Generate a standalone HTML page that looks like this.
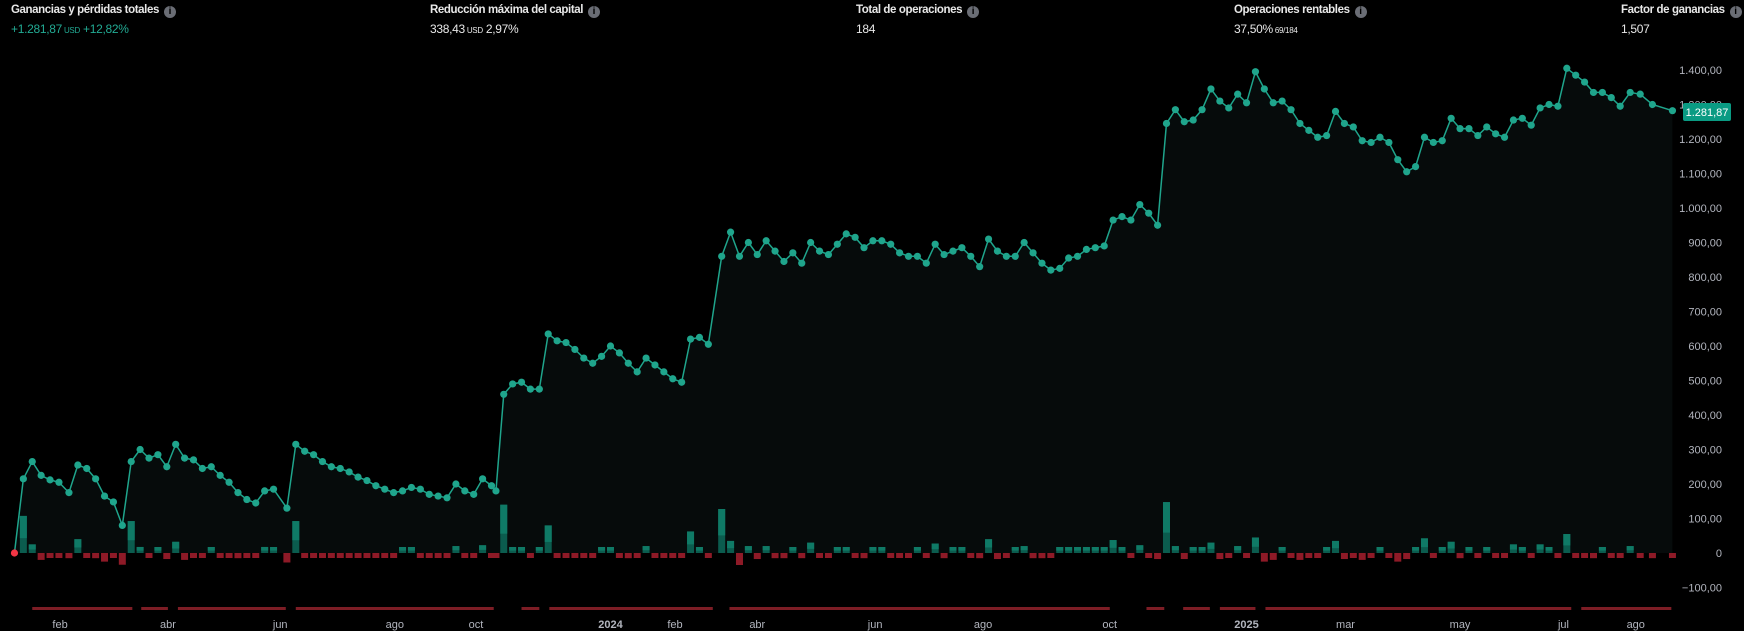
<!DOCTYPE html>
<html><head><meta charset="utf-8"><style>
body{margin:0;background:#000;width:1744px;height:631px;overflow:hidden;font-family:"Liberation Sans",sans-serif;}
.h{position:absolute;color:#e8e8e8;white-space:nowrap;}
.t{top:4px;font-weight:bold;font-size:11.5px;letter-spacing:-0.4px}
.v{top:22px;font-size:12px;letter-spacing:-0.3px}
.i{display:inline-block;width:12px;height:12px;border-radius:50%;background:#6a6d75;color:#000;font-size:10px;text-align:center;line-height:12px;font-weight:bold;vertical-align:-1px;margin-left:5px;letter-spacing:0}
small{font-size:8px}
</style></head><body>
<div class="h t" style="left:11px">Ganancias y pérdidas totales<span class="i">i</span></div>
<div class="h v" style="left:11px;color:#22ab94">+1.281,87<small> USD</small> +12,82%</div>
<div class="h t" style="left:430px">Reducción máxima del capital<span class="i">i</span></div>
<div class="h v" style="left:430px">338,43<small> USD</small> 2,97%</div>
<div class="h t" style="left:856px">Total de operaciones<span class="i">i</span></div>
<div class="h v" style="left:856px">184</div>
<div class="h t" style="left:1234px">Operaciones rentables<span class="i">i</span></div>
<div class="h v" style="left:1234px">37,50%<small> 69/184</small></div>
<div class="h t" style="left:1621px">Factor de ganancias<span class="i">i</span></div>
<div class="h v" style="left:1621px">1,507</div>
<svg id="s" width="1744" height="631" style="position:absolute;left:0;top:0" font-family="Liberation Sans, sans-serif"></svg>
<script>
var d=[13,0,21,215,29,265,37,225,45,212,53,205,62,175,70,255,78,245,86,215,94,165,102,148,110,80,118,265,126,300,134,275,142,285,150,250,158,315,166,275,174,270,182,245,190,250,198,225,206,205,214,175,222,155,230,145,238,180,246,185,258,130,266,315,274,295,282,285,290,265,298,250,306,245,314,235,322,220,330,210,338,195,346,185,354,175,362,180,370,190,378,185,386,170,394,165,402,160,410,200,418,180,426,170,434,215,442,195,446,180,453,460,461,490,469,495,477,475,485,475,493,635,501,615,509,610,517,590,525,565,533,550,541,570,549,600,557,580,565,550,573,525,581,565,589,545,597,525,605,505,613,495,621,620,629,625,637,605,649,860,657,930,665,860,673,900,681,865,689,905,697,875,705,845,713,870,721,840,729,900,737,875,745,865,753,895,761,925,769,915,777,885,785,905,793,905,801,895,809,870,817,860,825,860,833,840,841,895,849,865,857,875,865,885,873,860,881,830,889,910,897,875,905,860,913,860,921,900,929,870,937,840,945,820,953,825,961,855,969,860,977,880,985,885,993,890,1001,965,1009,975,1017,965,1025,1010,1033,985,1041,950,1049,1245,1057,1285,1065,1250,1073,1255,1081,1285,1089,1345,1097,1310,1105,1290,1113,1330,1121,1305,1129,1395,1137,1345,1145,1305,1153,1310,1161,1285,1169,1245,1177,1225,1185,1205,1193,1210,1201,1280,1209,1245,1217,1235,1225,1195,1233,1190,1241,1205,1249,1190,1257,1140,1265,1105,1273,1120,1281,1205,1289,1190,1297,1195,1305,1260,1313,1230,1321,1230,1329,1210,1337,1235,1345,1215,1353,1205,1361,1255,1369,1260,1377,1240,1385,1290,1393,1300,1401,1295,1409,1405,1417,1385,1425,1365,1433,1335,1441,1335,1449,1320,1457,1295,1466,1335,1475,1330,1486,1300,1504,1282];
var S=1.112,Y=function(v){return 553-v*0.345};
var s=document.getElementById('s'),h='';
for(var v=-100;v<=1400;v+=100){var t=(v<0?'−':'')+Math.abs(v).toLocaleString('de-DE')+(v==0?'':',00');if(v==0)t='0';h+='<text x="1722" y="'+(Y(v)+4)+'" fill="#b2b5be" font-size="11" text-anchor="end">'+t+'</text>';}
var pts=[];for(var i=0;i<d.length;i+=2)pts.push([d[i]*S,Y(d[i+1]),d[i+1]]);
var p='M'+pts[0][0]+','+553;pts.forEach(function(q){p+=' L'+q[0]+','+q[1]});p+=' L'+pts[pts.length-1][0]+',553Z';
h+='<path d="'+p+'" fill="#060b0b"/>';
for(var i=1;i<pts.length;i++){var df=pts[i][2]-pts[i-1][2],x=pts[i][0]-3.5;var bh=Math.min(Math.abs(df)*0.5,160)*0.345;if(bh<4)bh=4;
if(df>=0){bh=Math.max(bh,6);h+='<rect x="'+x+'" y="'+(553-bh)+'" width="7" height="'+bh+'" fill="#0b5c4e"/><rect x="'+x+'" y="'+(553-bh)+'" width="7" height="'+(bh*0.6)+'" fill="#0f7a66"/>';}
else{var rh=Math.min(Math.max(bh,5),12);h+='<rect x="'+x+'" y="553" width="7" height="'+rh+'" fill="#8e1a27"/>';}}
var l='';pts.forEach(function(q,i){l+=(i?' L':'M')+q[0]+','+q[1]});
h+='<path d="'+l+'" fill="none" stroke="#1fa58c" stroke-width="1.5"/>';
pts.forEach(function(q,i){h+='<circle cx="'+q[0]+'" cy="'+q[1]+'" r="3.6" fill="'+(i?'#1fa58c':'#f23645')+'"/>'});
var sg=[29,119,127,151,160,257,266,444,469,485,494,641,656,998,1031,1047,1064,1088,1097,1129,1138,1413,1422,1503];
for(var i=0;i<sg.length;i+=2)h+='<rect x="'+sg[i]*S+'" y="607" width="'+(sg[i+1]-sg[i])*S+'" height="3" fill="#7d1d25"/>';
var m=[[54,'feb'],[151,'abr'],[252,'jun'],[355,'ago'],[428,'oct'],[549,'2024',1],[607,'feb'],[681,'abr'],[787,'jun'],[884,'ago'],[998,'oct'],[1121,'2025',1],[1210,'mar'],[1313,'may'],[1406,'jul'],[1471,'ago']];
m.forEach(function(a){h+='<text x="'+a[0]*S+'" y="628" fill="#b2b5be" font-size="11" text-anchor="middle"'+(a[2]?' font-weight="bold"':'')+'>'+a[1]+'</text>'});
h+='<rect x="1683" y="103" width="48" height="18" rx="2" fill="#0a9b83"/><text x="1707" y="116" fill="#fff" font-size="11" text-anchor="middle">1.281,87</text>';
s.innerHTML=h;
</script>
</body></html>
